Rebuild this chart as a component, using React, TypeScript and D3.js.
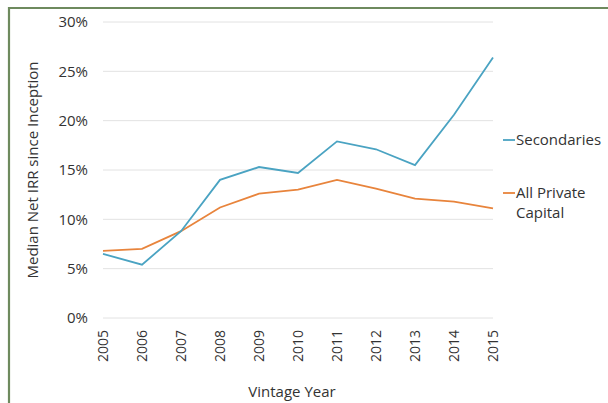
import React from "react";
import * as d3 from "d3";

const years = ["2005","2006","2007","2008","2009","2010","2011","2012","2013","2014","2015"];
const secondaries = [6.5, 5.4, 8.8, 14.0, 15.3, 14.7, 17.9, 17.1, 15.5, 20.6, 26.4];
const allPrivate = [6.8, 7.0, 8.8, 11.2, 12.6, 13.0, 14.0, 13.1, 12.1, 11.8, 11.1];
const yTicks = [0, 5, 10, 15, 20, 25, 30];

const W = 608, H = 403;
const FONT = "'Open Sans', sans-serif";
const BLUE = "#4aa3c2";
const ORANGE = "#e8843c";
const TEXT = "#333333";

export default function App() {
  const x = d3.scalePoint<string>().domain(years).range([103, 493]);
  const y = d3.scaleLinear().domain([0, 30]).range([318, 22]);
  const line = d3.line<number>().x((_, i) => x(years[i]) as number).y(d => y(d));

  return (
    <svg width={W} height={H} style={{ position: "absolute", left: 0, top: 0, background: "#fff" }}>
      <rect x={0} y={0} width={W} height={H} fill="#fff" />
      <line x1={9} y1={8} x2={W} y2={8} stroke="#6e8a5e" strokeWidth={2.2} />
      <line x1={9} y1={7} x2={9} y2={H} stroke="#6e8a5e" strokeWidth={2.2} />
      {yTicks.map(t => (
        <g key={t}>
          <line x1={103} x2={493} y1={y(t)} y2={y(t)} stroke="#e2e2e2" strokeWidth={1} />
          <text x={88} y={y(t)} dy="0.35em" textAnchor="end" fontFamily={FONT} fontSize={15} fill={TEXT}>{t}%</text>
        </g>
      ))}
      {years.map(yr => (
        <text key={yr} transform={`translate(${(x(yr) as number) + 5},330) rotate(-90)`} textAnchor="end"
          fontFamily={FONT} fontSize={14} fill={TEXT}>{yr}</text>
      ))}
      <path d={line(allPrivate) || ""} fill="none" stroke={ORANGE} strokeWidth={1.8} />
      <path d={line(secondaries) || ""} fill="none" stroke={BLUE} strokeWidth={1.8} />
      <text transform="translate(38,170) rotate(-90)" textAnchor="middle" fontFamily={FONT} fontSize={15} fill={TEXT}>Median Net IRR since Inception</text>
      <text x={292} y={397} textAnchor="middle" fontFamily={FONT} fontSize={15} fill={TEXT}>Vintage Year</text>
      <line x1={503} x2={515} y1={140} y2={140} stroke={BLUE} strokeWidth={1.8} />
      <text x={516} y={140} dy="0.35em" fontFamily={FONT} fontSize={15} fill={TEXT}>Secondaries</text>
      <line x1={503} x2={515} y1={193} y2={193} stroke={ORANGE} strokeWidth={1.8} />
      <text x={516} y={193} dy="0.35em" fontFamily={FONT} fontSize={15} fill={TEXT}>All Private</text>
      <text x={516} y={213} dy="0.35em" fontFamily={FONT} fontSize={15} fill={TEXT}>Capital</text>
    </svg>
  );
}
